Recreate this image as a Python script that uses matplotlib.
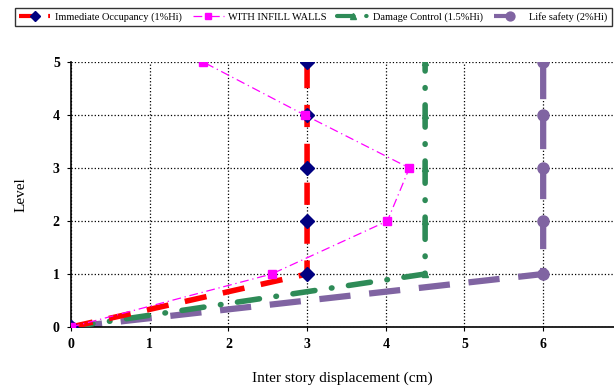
import numpy as np
import matplotlib
matplotlib.use('Agg')
from matplotlib import pyplot as plt

levels    = [0, 1, 2, 3, 4, 5]
io_disp   = [0, 3, 3, 3, 3, 3]
infill    = [0, 2.55, 4.02, 4.3, 2.97, 1.68]
dc_disp   = [0, 4.5, 4.5, 4.5, 4.5, 4.5]
ls_disp   = [0, 6, 6, 6, 6, 6]

plt.rcParams['font.family'] = ['Liberation Serif', 'DejaVu Serif']

fig = plt.figure(figsize=(6.14, 3.9), dpi=100)
ax = fig.add_axes([0.1156, 0.1615, 0.8844, 0.6795])

ax.plot(io_disp, levels, color='red', lw=4, dashes=(4, 3), marker='D', ms=7,
        mfc='#000080', mec='#000080', label='Immediate Occupancy (1%Hi)', zorder=4)
ax.plot(infill, levels, color='magenta', lw=0.9, ls=(0, (7, 3, 1, 3)), marker='s', ms=6,
        mfc='magenta', mec='magenta', label='WITH INFILL WALLS', zorder=5)
ax.plot(dc_disp, levels, color='#2e8b57', lw=4, ls=(0, (4, 3, 0.1, 3)),
        dash_capstyle='round', marker='^', ms=5, mfc='#2e8b57', mec='#2e8b57',
        label='Damage Control (1.5%Hi)', zorder=3)
ax.plot(ls_disp, levels, color='#8064a2', lw=4.5, dashes=(5, 3), marker='o', ms=8,
        mfc='#8064a2', mec='#8064a2', label='Life safety (2%Hi)', zorder=2)

ax.set_xlim(0, 6.9)
ax.set_ylim(0, 5)
ax.set_xticks(range(0, 7))
ax.set_yticks(range(0, 6))
ax.grid(True, ls=':', color='black', lw=0.9)
for s in ['top', 'right']:
    ax.spines[s].set_visible(False)
ax.spines['left'].set_linewidth(1.2)
ax.spines['bottom'].set_linewidth(1.2)
ax.tick_params(labelsize=10, length=3, pad=5)
for t in ax.get_xticklabels() + ax.get_yticklabels():
    t.set_fontweight('bold')

ax.set_xlabel('Inter story displacement (cm)', fontsize=11, labelpad=15)
ax.set_ylabel('Level', fontsize=11, labelpad=18)

leg = fig.legend(loc='upper left', bbox_to_anchor=(0.0244, 0.918, 0.972, 0.061), mode='expand',
                 ncol=4, fontsize=7.5, frameon=True, fancybox=False, edgecolor='black',
                 handlelength=3, handletextpad=0.4, borderpad=0.4, columnspacing=1.0,
                 markerscale=0.8, borderaxespad=0)
for h in leg.get_lines():
    h.set_linewidth(min(h.get_linewidth(), 3))

fig.savefig('out.png', dpi=100)
